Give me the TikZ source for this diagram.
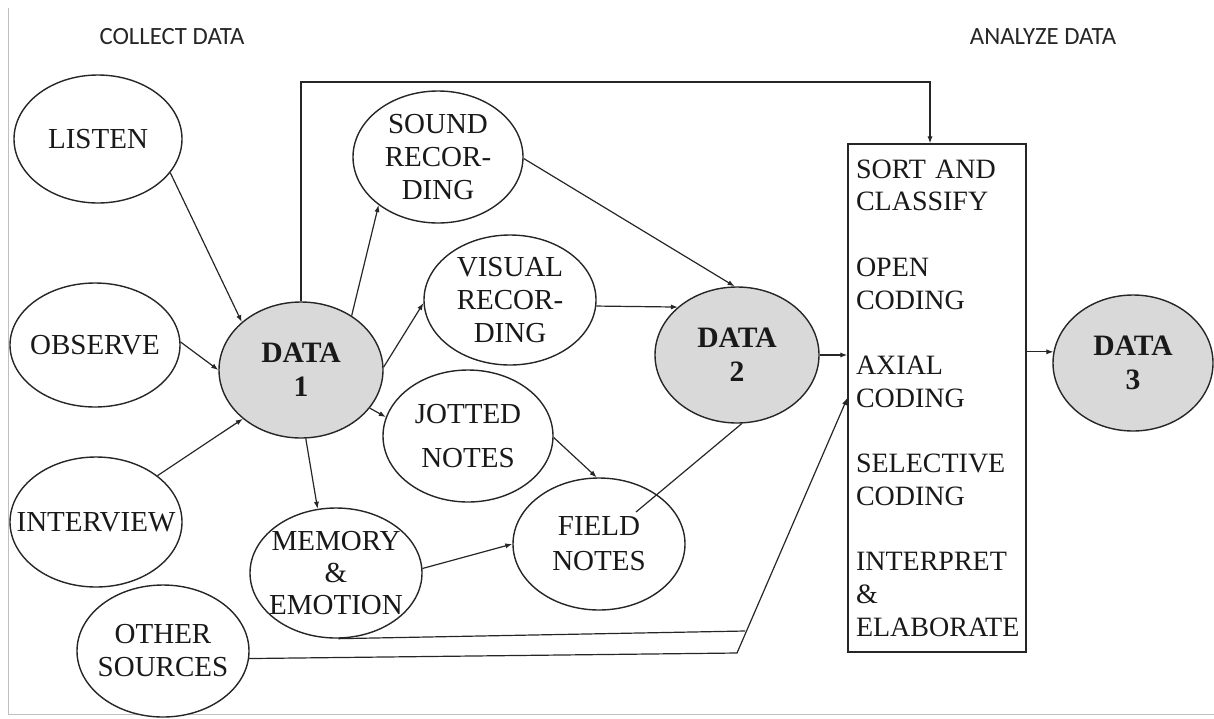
\documentclass[tikz,border=0pt]{standalone}
\usepackage{fontspec}
\setmainfont{Liberation Serif}
\newfontfamily\hdrfont{Carlito}
\usetikzlibrary{arrows.meta,shapes.geometric,calc}
\begin{document}
\begin{tikzpicture}[x=0.5pt,y=-0.5pt,
  ell/.style={ellipse,draw=black!85,line width=0.7pt,inner sep=0pt,fill=white},
  dat/.style={ell,fill=black!15},
  txt/.style={font=\fontsize{14.5}{16.5}\selectfont,align=center,text=black!90},
  btxt/.style={txt,font=\fontsize{14.8}{17}\selectfont\bfseries},
  hdr/.style={font=\hdrfont\fontsize{12.4}{14}\selectfont,text=black!85},
  con/.style={line width=0.6pt,draw=black!85},
  arr/.style={con,-{Latex[length=3.5pt,width=2.6pt]}}]
\useasboundingbox (0,0) rectangle (1214,718);
\draw[black!25,line width=0.5pt] (8,8) -- (8,714) -- (1214,714);
% headers
\node[hdr] (hcollect) at (172,37) {COLLECT DATA};
\node[hdr] (hanalyze) at (1043,37) {ANALYZE DATA};
% left sources
\node[ell,minimum width=84pt,minimum height=64pt,label={[txt]center:LISTEN}] (listen) at (98,139) {};
\node[ell,minimum width=85pt,minimum height=62pt,label={[txt]center:OBSERVE}] (observe) at (95,345) {};
\node[ell,minimum width=86pt,minimum height=65pt,label={[txt]center:INTERVIEW}] (interview) at (96,522) {};
\node[ell,minimum width=86pt,minimum height=66pt,label={[txt]center:{OTHER\\SOURCES}}] (other) at (163,651) {};
% data 1
\node[dat,minimum width=82pt,minimum height=68pt,label={[btxt]center:{DATA\\1}}] (data1) at (301,370) {};
% recordings
\node[ell,minimum width=85pt,minimum height=66pt,label={[txt]center:{SOUND\\RECOR-\\DING}}] (sound) at (438,157) {};
\node[ell,minimum width=86pt,minimum height=65pt,label={[txt]center:{VISUAL\\RECOR-\\DING}}] (visual) at (510,300) {};
\node[ell,minimum width=85pt,minimum height=66pt,label={[txt,font=\fontsize{14.5}{22}\selectfont]center:{JOTTED\\NOTES}}] (jotted) at (468,436) {};
\node[ell,minimum width=86pt,minimum height=65pt,label={[txt,font=\fontsize{14.5}{16}\selectfont]center:{MEMORY\\\&\\EMOTION}}] (memory) at (336,573) {};
\node[ell,minimum width=86pt,minimum height=66pt,label={[txt,font=\fontsize{14.5}{17.5}\selectfont]center:{FIELD\\NOTES}}] (field) at (599,544) {};
% data 2, box, data 3
\node[dat,minimum width=82pt,minimum height=68pt,label={[btxt]center:{DATA\\2}}] (data2) at (737,355) {};
\node[draw=black!85,line width=0.7pt,inner sep=4pt,text width=81pt,minimum height=254pt,align=left,font=\fontsize{14}{16.35}\selectfont,text=black!90] (box) at (937,398)
 {SORT AND\\CLASSIFY\\[16.35pt]OPEN\\CODING\\[16.35pt]AXIAL\\CODING\\[16.35pt]SELECTIVE\\CODING\\[16.35pt]INTERPRET\\\&\\ELABORATE};
\node[dat,minimum width=80pt,minimum height=68pt,label={[btxt]center:{DATA\\3}}] (data3) at (1133,363) {};
% helper coordinates
\coordinate (topc) at (930,82);
\coordinate (mjoin) at (745,631);
\coordinate (ojoin) at (737,653);
% connectors
\draw[arr] (listen.-25) -- (data1.141);
\draw[arr] (observe.2) -- (data1.180);
\draw[arr] (interview.37) -- (data1.-140);
\draw[arr] (data1.47) -- (sound.-141);
\draw[arr] (data1.2) -- (visual.-178);
\draw[arr] (data1.-29) -- (jotted.167);
\draw[arr] (data1.-86) -- (memory.106);
\draw[arr] (data1.north) |- (topc) -- (topc |- box.north);
\draw[arr] (sound.-1) -- (data2.92);
\draw[arr] (visual.-4) -- (data2.141);
\draw[arr] (jotted.-1) -- (field.92);
\draw[con] ([shift={(18.5pt,16pt)}]field.center) -- (data2.-86);
\draw[arr] (memory.3) -- (field.180);
\draw[con] (memory.-88) -- (mjoin);
\draw[arr] (other.-5) -- (ojoin) -- (box.west);
\draw[arr] (data2.east) -- (data2.east -| box.west);
\draw[arr] (data3.172 -| box.east) -- (data3.172);
\end{tikzpicture}
\end{document}
